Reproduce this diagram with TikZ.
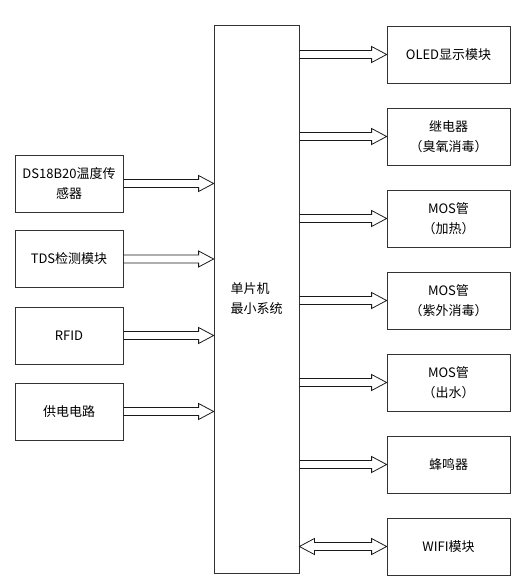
\documentclass[tikz,border=0pt]{standalone}
\usepackage{fontspec}
\setmainfont{Noto Sans CJK SC}
\usetikzlibrary{calc}

% hollow arrow from tail point #1 to tip point #2 (same height)
\newcommand{\fatarrow}[2]{%
  \draw[fat] ($(#1)+(0,-4)$) -- ($(#2)+(-15,-4)$) -- ($(#2)+(-15,-8)$) -- (#2)
    -- ($(#2)+(-15,8)$) -- ($(#2)+(-15,4)$) -- ($(#1)+(0,4)$);
}
% hollow arrow with tips at both ends
\newcommand{\fatdarrow}[2]{%
  \draw[fat] (#1) -- ($(#1)+(15,-8)$) -- ($(#1)+(15,-4)$) -- ($(#2)+(-15,-4)$)
    -- ($(#2)+(-15,-8)$) -- (#2) -- ($(#2)+(-15,8)$) -- ($(#2)+(-15,4)$)
    -- ($(#1)+(15,4)$) -- ($(#1)+(15,8)$) -- cycle;
}

\begin{document}
\begin{tikzpicture}[x=1pt,y=-1pt]
        % Styles for the boxes and the hollow arrows
        \tikzset{
            block/.style={
                draw=black!80,
                rectangle,
                line width=0.8pt,
                minimum width=108pt,
                minimum height=57pt,
                align=center,
                font=\fontsize{13}{20}\selectfont
            },
            outblock/.style={
                block,
                minimum width=123pt
            },
            mcu/.style={
                block,
                minimum width=85pt,
                minimum height=548pt,
                align=left
            },
            fat/.style={
                draw=black!90,
                line width=0.8pt,
                line join=miter
            }
        }
        \useasboundingbox (0,0) rectangle (521,585);
        % Central controller
        \node[mcu] (mcu) at (256.5,299) {单片机\\最小系统};
        % Inputs on the left
        \foreach \n/\y/\txt in {ds/183.5/{DS18B20温度传\\感器}, tds/259/TDS检测模块, rfid/335.5/RFID, pwr/411.5/供电电路} {
            \node[block] (\n) at (69,\y) {\txt};
            \fatarrow{\n.east}{\n.east -| mcu.west}
        }
        % Outputs on the right
        \foreach \n/\y/\txt in {oled/54.5/OLED显示模块, relay/136.5/{继电器\\（臭氧消毒）}, heat/218.5/{MOS管\\（加热）}, uv/300.5/{MOS管\\（紫外消毒）}, water/382.5/{MOS管\\（出水）}, buzz/464.5/蜂鸣器} {
            \node[outblock] (\n) at (448.5,\y) {\txt};
            \fatarrow{mcu.east |- \n.west}{\n.west}
        }
        % Two-way link
        \node[outblock] (wifi) at (448.5,546.5) {WIFI模块};
        \fatdarrow{mcu.east |- wifi.west}{wifi.west}
\end{tikzpicture}
\end{document}
